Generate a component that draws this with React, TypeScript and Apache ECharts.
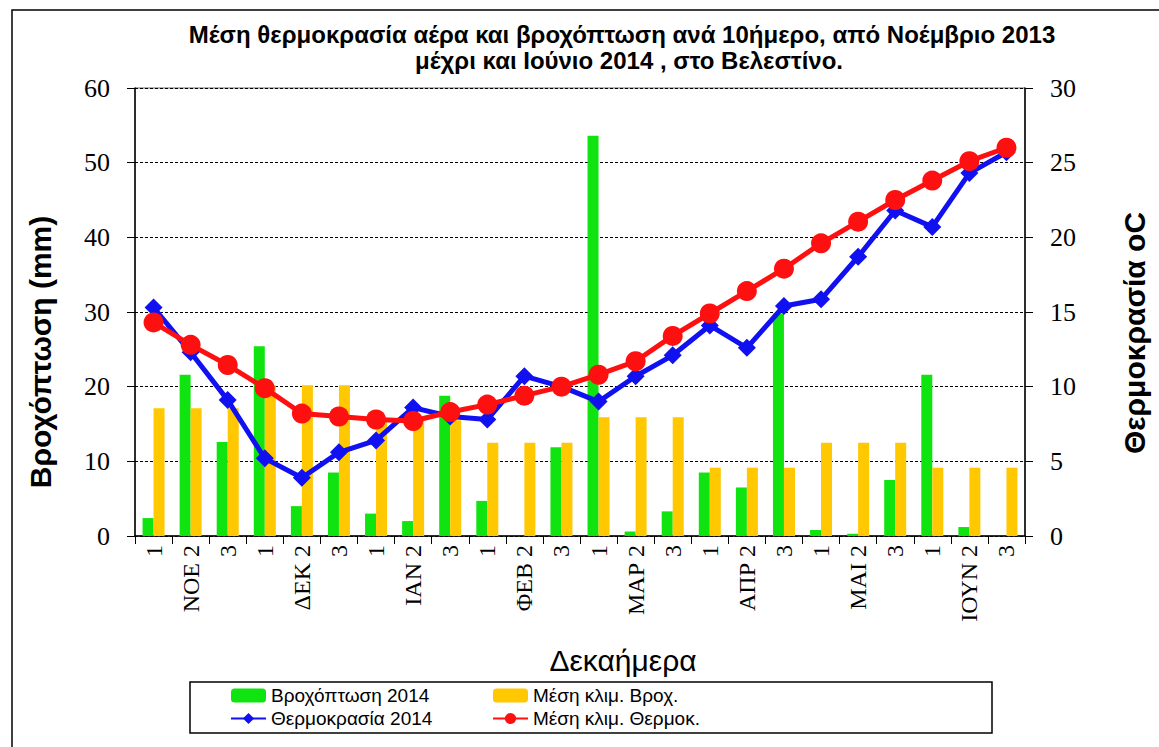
import React, { useEffect, useRef } from 'react';
import * as echarts from 'echarts';

const categories = ['1', 'ΝΟΕ 2', '3', '1', 'ΔΕΚ 2', '3', '1', 'ΙΑΝ 2', '3', '1', 'ΦΕΒ 2', '3',
  '1', 'ΜΑΡ 2', '3', '1', 'ΑΠΡ 2', '3', '1', 'ΜΑΙ 2', '3', '1', 'ΙΟΥΝ 2', '3'];

const rain2014 = [2.4, 21.6, 12.6, 25.4, 4.0, 8.5, 3.0, 2.0, 18.8, 4.7, 0, 11.9,
  53.6, 0.6, 3.3, 8.5, 6.5, 29.8, 0.8, 0.3, 7.5, 21.6, 1.2, 0];

const climRain = [17.1, 17.1, 17.1, 20.2, 20.2, 20.2, 15.5, 15.5, 15.5, 12.5, 12.5, 12.5,
  15.9, 15.9, 15.9, 9.15, 9.15, 9.15, 12.5, 12.5, 12.5, 9.15, 9.15, 9.15];

const temp2014 = [15.3, 12.3, 9.1, 5.2, 3.9, 5.6, 6.4, 8.6, 8.0, 7.8, 10.7, 10.0,
  9.0, 10.7, 12.1, 14.1, 12.6, 15.4, 15.85, 18.7, 21.8, 20.7, 24.3, 25.7];

const climTemp = [14.3, 12.8, 11.45, 9.9, 8.2, 8.0, 7.8, 7.7, 8.3, 8.8, 9.4, 10.0,
  10.8, 11.7, 13.4, 14.9, 16.4, 17.9, 19.6, 21.05, 22.5, 23.8, 25.1, 26.0];

const titleLines = [
  'Μέση θερμοκρασία αέρα και βροχόπτωση ανά 10ήμερο, από Νοέμβριο 2013',
  'μέχρι και Ιούνιο 2014 , στο Βελεστίνο.',
];

const SANS = '"Liberation Sans", Arial, sans-serif';
const SERIF = '"Liberation Serif", "Times New Roman", serif';

export default function App() {
  const ref = useRef<HTMLDivElement>(null);
  useEffect(() => {
    document.body.style.margin = '0';
    const chart = echarts.init(ref.current!, null, { renderer: 'svg' });
    chart.setOption({
      animation: false,
      backgroundColor: '#fff',
      grid: {
        left: 135, right: 134, top: 88, bottom: 211,
        show: true, borderColor: '#666', borderWidth: 1,
      },
      graphic: [
        { type: 'rect', shape: { x: 12, y: 10, width: 1170, height: 760 }, style: { fill: 'none', stroke: '#000', lineWidth: 1.5 } },
        { type: 'text', x: 622, y: 34, style: { text: titleLines[0], align: 'center', verticalAlign: 'middle', fontFamily: SANS, fontWeight: 'bold', fontSize: 24, fill: '#000' } },
        { type: 'text', x: 629, y: 60, style: { text: titleLines[1], align: 'center', verticalAlign: 'middle', fontFamily: SANS, fontWeight: 'bold', fontSize: 24, fill: '#000' } },
        { type: 'text', x: 40, y: 352, rotation: Math.PI / 2, style: { text: 'Βροχόπτωση (mm)', align: 'center', verticalAlign: 'middle', fontFamily: SANS, fontWeight: 'bold', fontSize: 30, fill: '#000' } },
        { type: 'text', x: 1134, y: 333, rotation: Math.PI / 2, style: { text: 'Θερμοκρασία oC', align: 'center', verticalAlign: 'middle', fontFamily: SANS, fontWeight: 'bold', fontSize: 30, fill: '#000' } },
        { type: 'text', x: 623, y: 660, style: { text: 'Δεκαήμερα', align: 'center', verticalAlign: 'middle', fontFamily: SANS, fontSize: 30, fill: '#000' } },
        { type: 'rect', shape: { x: 190, y: 682, width: 802, height: 51 }, style: { fill: 'none', stroke: '#000', lineWidth: 1.5 } },
      ],
      legend: [
        {
          data: ['Βροχόπτωση 2014', 'Θερμοκρασία 2014'], orient: 'vertical', left: 230, top: 686,
          padding: 0, itemWidth: 35, itemHeight: 14, itemGap: 4, selectedMode: false,
          textStyle: { fontFamily: SANS, fontSize: 19, color: '#000' },
        },
        {
          data: ['Μέση κλιμ. Βροχ.', 'Μέση κλιμ. Θερμοκ.'], orient: 'vertical', left: 492, top: 686,
          padding: 0, itemWidth: 35, itemHeight: 14, itemGap: 4, selectedMode: false,
          textStyle: { fontFamily: SANS, fontSize: 19, color: '#000' },
        },
      ],
      xAxis: {
        type: 'category', data: categories,
        axisLine: { lineStyle: { color: '#000', width: 1.5 } },
        axisTick: { show: true, length: 8, lineStyle: { color: '#000' } },
        axisLabel: { rotate: 90, interval: 0, margin: 9, fontFamily: SERIF, fontSize: 24, color: '#000' },
      },
      yAxis: [
        {
          type: 'value', min: 0, max: 60, interval: 10,
          axisLine: { show: true, lineStyle: { color: '#000', width: 1.5 } },
          axisTick: { show: true, length: 8, lineStyle: { color: '#000' } },
          axisLabel: { margin: 25, fontFamily: SERIF, fontSize: 26, color: '#000' },
          splitLine: { show: true, lineStyle: { color: '#000', width: 1, type: [3, 2] } },
        },
        {
          type: 'value', min: 0, max: 30, interval: 5, position: 'right',
          axisLine: { show: true, lineStyle: { color: '#000', width: 1.5 } },
          axisTick: { show: true, length: 8, lineStyle: { color: '#000' } },
          axisLabel: { margin: 25, fontFamily: SERIF, fontSize: 26, color: '#000' },
          splitLine: { show: false },
        },
      ],
      series: [
        {
          name: 'Βροχόπτωση 2014', type: 'bar', yAxisIndex: 0, data: rain2014,
          barWidth: 11, barGap: '0%', itemStyle: { color: '#10E410' },
        },
        {
          name: 'Μέση κλιμ. Βροχ.', type: 'bar', yAxisIndex: 0, data: climRain,
          barWidth: 11, barGap: '0%', itemStyle: { color: '#FFC800' },
        },
        {
          name: 'Θερμοκρασία 2014', type: 'line', yAxisIndex: 1, data: temp2014,
          symbol: 'diamond', symbolSize: 18,
          lineStyle: { color: '#1010F0', width: 5 }, itemStyle: { color: '#1010F0' },
        },
        {
          name: 'Μέση κλιμ. Θερμοκ.', type: 'line', yAxisIndex: 1, data: climTemp,
          symbol: 'circle', symbolSize: 20,
          lineStyle: { color: '#FF1010', width: 5 }, itemStyle: { color: '#FF1010' },
        },
      ],
    });
    return () => chart.dispose();
  }, []);
  return <div ref={ref} style={{ width: 1159, height: 747 }} />;
}
